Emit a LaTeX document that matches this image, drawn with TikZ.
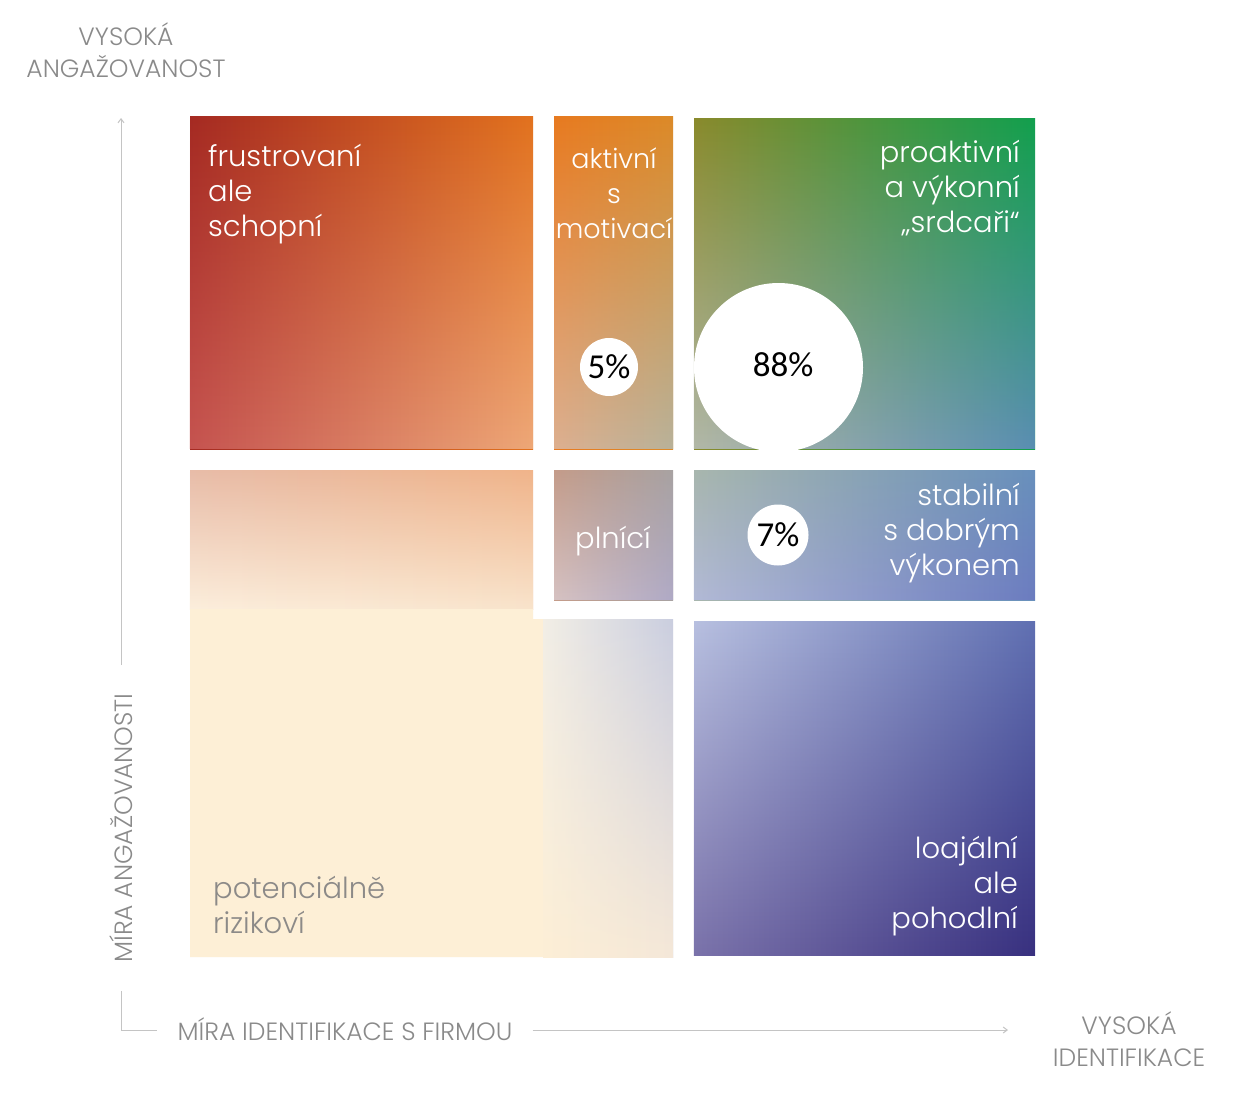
\documentclass[tikz,border=0pt]{standalone}
\usepackage{fontspec}
\newfontfamily\labfont{Poppins Light}
\newfontfamily\pctfont{Carlito}
\usetikzlibrary{fadings,arrows.meta}
\tikzfading[name=fadeDown, top color=transparent!100, bottom color=transparent!0]
% bilinear box: x1,y1,x2,y2, TL, TR, BL, BR
\newcommand\quadbox[8]{%
  \shade[left color=#5,right color=#6] (#1,#2) rectangle (#3,#4);
  \shade[left color=#7,right color=#8,path fading=fadeDown] (#1,#2) rectangle (#3,#4);}
\definecolor{aTL}{HTML}{A52A22}\definecolor{aTR}{HTML}{E2721E}
\definecolor{aBL}{HTML}{C65450}\definecolor{aBR}{HTML}{EEA878}
\definecolor{bTL}{HTML}{E87A20}\definecolor{bTR}{HTML}{DC8A28}
\definecolor{bBL}{HTML}{DDB090}\definecolor{bBR}{HTML}{B8B29A}
\definecolor{cTL}{HTML}{8A8A2C}\definecolor{cTR}{HTML}{12A04E}
\definecolor{cBL}{HTML}{B2B8A8}\definecolor{cBR}{HTML}{5A8EB2}
\definecolor{dTL}{HTML}{E8BCA8}\definecolor{dTR}{HTML}{F0B48A}
\definecolor{dBL}{HTML}{FCEEDC}\definecolor{dBR}{HTML}{F9E4CC}
\definecolor{cream}{HTML}{FDEFD6}
\definecolor{gTL}{HTML}{F2EEE6}\definecolor{gTR}{HTML}{CACEE0}
\definecolor{gBL}{HTML}{FDEFD6}\definecolor{gBR}{HTML}{F5E8D8}
\definecolor{eTL}{HTML}{C49C8A}\definecolor{eTR}{HTML}{A8A2A2}
\definecolor{eBL}{HTML}{D6C2C2}\definecolor{eBR}{HTML}{B0AAC6}
\definecolor{fTL}{HTML}{A8B6AE}\definecolor{fTR}{HTML}{6890BC}
\definecolor{fBL}{HTML}{B2BAD6}\definecolor{fBR}{HTML}{6C7CC0}
\definecolor{hTL}{HTML}{B8C0E0}\definecolor{hTR}{HTML}{6070B2}
\definecolor{hBL}{HTML}{7A72AA}\definecolor{hBR}{HTML}{38307F}
\definecolor{axisgray}{HTML}{8A8A8A}
\definecolor{riskgray}{HTML}{8C8A88}
\definecolor{linegray}{HTML}{C4C4C4}
\tikzset{
  lbl/.style={text=white, font=\labfont\fontsize{29}{35}\selectfont, inner sep=0pt},
  axl/.style={text=axisgray, font=\labfont\fontsize{25}{32}\selectfont, inner sep=0pt, align=center},
  pct/.style={font=\pctfont\fontsize{35}{38}\selectfont, text=black, inner sep=0pt},
  pcirc/.style={circle, fill=white, inner sep=0pt},
  axline/.style={draw=linegray, line width=1pt},
  axarrow/.style={axline, -{Straight Barb[length=4pt,width=6pt]}},
}
\begin{document}
\begin{tikzpicture}[x=1pt,y=1pt]
\useasboundingbox (0,0) rectangle (1246,-1092);
\fill[white] (0,0) rectangle (1246,-1092);
% boxes
\quadbox{190}{-116}{533}{-449}{aTL}{aTR}{aBL}{aBR}
\quadbox{554}{-116}{673}{-449}{bTL}{bTR}{bBL}{bBR}
\quadbox{694}{-118}{1035}{-449}{cTL}{cTR}{cBL}{cBR}
\quadbox{190}{-470}{533}{-609}{dTL}{dTR}{dBL}{dBR}
\fill[cream] (190,-609) -- (533,-609) -- (533,-619) -- (543,-619) -- (543,-957) -- (190,-957) -- cycle;
\quadbox{543}{-619}{673}{-957}{gTL}{gTR}{gBL}{gBR}
\quadbox{554}{-470}{673}{-600}{eTL}{eTR}{eBL}{eBR}
\quadbox{694}{-470}{1035}{-600}{fTL}{fTR}{fBL}{fBR}
\quadbox{694}{-621}{1035}{-955}{hTL}{hTR}{hBL}{hBR}
% big circle clipped to its box
\begin{scope}
  \clip (694,-118) rectangle (1035,-449);
  \fill[white] (778.5,-367.5) circle (84.5);
\end{scope}
% labels (base anchor = baseline of last line)
\node[lbl, anchor=base west, align=left] (frus) at (208,-236) {frustrovaní\\ale\\schopní};
\node[lbl, font=\labfont\fontsize{27}{35}\selectfont, anchor=base, align=center] (akt) at (614,-238) {aktivní\\s\\motivací};
\node[lbl, anchor=base east, align=right] (pro) at (1020,-232) {proaktivní\\a výkonní\\„srdcaři“};
\node[lbl, anchor=base] (pln) at (613,-548) {plnící};
\node[lbl, anchor=base east, align=right] (stab) at (1020,-575) {stabilní\\s dobrým\\výkonem};
\node[lbl, anchor=base east, align=right] (loa) at (1018,-928) {loajální\\ale\\pohodlní};
\node[lbl, text=riskgray, anchor=base west, align=left] (pot) at (213,-933) {potenciálně\\rizikoví};
% percentages
\node[pcirc, minimum size=58pt] (c5) at (609,-367) {};
\node[pct] (p5) at (c5) {5\%};
\node[pct] (p88) at (783,-365) {88\%};
\node[pcirc, minimum size=61pt] (c7) at (778,-535) {};
\node[pct] (p7) at (c7) {7\%};
% axes
\node[axl] (ytop) at (126,-50) {VYSOKÁ\\ANGAŽOVANOST};
\node[axl, rotate=90, inner xsep=28pt] (ylab) at (121,-828) {MÍRA ANGAŽOVANOSTI};
\node[axl, inner xsep=20pt] (xlab) at (345,-1029) {MÍRA IDENTIFIKACE S FIRMOU};
\node[axl] (xend) at (1129,-1039) {VYSOKÁ\\IDENTIFIKACE};
\coordinate (ytip) at (121,-118);
\coordinate (corner) at (121,-1030);
\coordinate (xtip) at (1008,-1030);
\draw[axarrow] (ylab.east) -- (ytip);
\draw[axline] (ylab.west) -- (corner) -- (xlab.west |- corner);
\draw[axarrow] (xlab.east |- corner) -- (xtip);
\end{tikzpicture}
\end{document}
